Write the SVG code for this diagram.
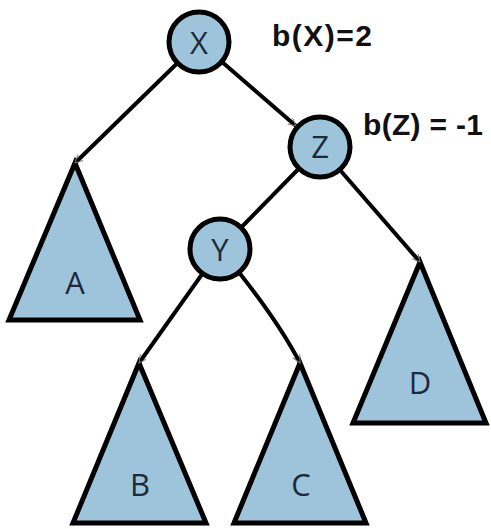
<svg xmlns="http://www.w3.org/2000/svg" width="491" height="529" viewBox="0 0 491 529">
<defs>
<style>
.bg{fill:#ffffff}
.tri{fill:#9ec4dc;stroke:#000;stroke-width:5;stroke-linejoin:miter}
.node{fill:#9ec4dc;stroke:#000;stroke-width:5}
.edge{fill:none;stroke:#000;stroke-width:4;marker-end:url(#arr)}
.lbl{font-family:"Open Sans","Liberation Sans",sans-serif;font-size:31px;fill:#1c2a3c;text-anchor:middle}
.bal{font-family:"Liberation Sans",Arial,sans-serif;font-size:30px;font-weight:bold;fill:#111}
</style>
<marker id="arr" markerUnits="userSpaceOnUse" markerWidth="10" markerHeight="10" refX="8" refY="4" orient="auto">
<path d="M0,0 L8,4 L0,8" fill="none" stroke="#777" stroke-width="1"/>
</marker>
</defs>
<rect class="bg" width="491" height="529"/>
<g id="A"><polygon class="tri" points="75,163 9,320 140,320"/><text class="lbl" x="75" y="294">A</text></g>
<g id="B"><polygon class="tri" points="139,363 73,523 206,523"/><text class="lbl" x="140" y="496">B</text></g>
<g id="C"><polygon class="tri" points="300,363 234,523 366,523"/><text class="lbl" x="301" y="496">C</text></g>
<g id="D"><polygon class="tri" points="420,262 353,423 486,423"/><text class="lbl" x="420" y="394">D</text></g>
<g id="connectors">
<path class="edge" d="M199,42 L75,163"/>
<path class="edge" d="M199,42 L296,126"/>
<path class="edge" d="M320,147 L220,249"/>
<path class="edge" d="M320,147 L420,262"/>
<path class="edge" d="M220,249 L139,363"/>
<path class="edge" d="M220,249 Q275,315 300,363"/>
</g>
<g id="X"><circle class="node" cx="199" cy="42" r="30"/><text class="lbl" x="199" y="54">X</text></g>
<g id="Z"><circle class="node" cx="320" cy="147" r="30"/><text class="lbl" x="320" y="158">Z</text></g>
<g id="Y"><circle class="node" cx="220" cy="249" r="30"/><text class="lbl" x="220" y="261">Y</text></g>
<g id="bX"><text class="bal" x="272" y="46" textLength="100">b(X)=2</text></g>
<g id="bZ"><text class="bal" x="363" y="135" textLength="120">b(Z) = -1</text></g>
</svg>
